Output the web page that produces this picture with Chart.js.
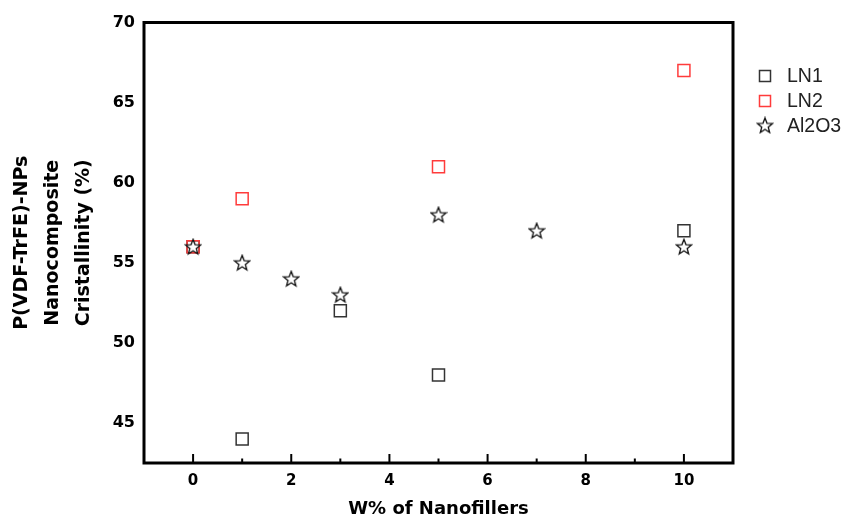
<!DOCTYPE html>
<html>
<head>
<meta charset="utf-8">
<script src="https://cdn.jsdelivr.net/npm/chart.js@4/dist/chart.umd.min.js"></script>
<style>
  html, body { margin: 0; padding: 0; background: #fff; }
  #chart { display: block; }
</style>
</head>
<body>
<canvas id="chart" width="843" height="516"></canvas>
<script>
// data
var ln1X = [0, 1, 3, 5, 10];
var ln1Y = [56, 44, 52, 48, 57];
var ln2X = [0, 1, 5, 10];
var ln2Y = [56, 59, 61, 67];
var alX = [0, 1, 2, 3, 5, 7, 10];
var alY = [56, 55, 54, 53, 58, 57, 56];
var seriesNames = ["LN1", "LN2", "Al2O3"];
var yTicks = [45, 50, 55, 60, 65, 70];
var xTickLabels = [0, 2, 4, 6, 8, 10];
var xMinorTicks = [1, 3, 5, 7, 9];

function pts(xs, ys) {
    return xs.map(function (x, i) { return {x: x, y: ys[i]}; });
}

// five-pointed outline star for the Al2O3 markers
function makeStar() {
    var c = document.createElement('canvas');
    c.width = 18; c.height = 18;
    var g = c.getContext('2d');
    g.beginPath();
    for (var i = 0; i < 10; i++) {
        var r = i % 2 === 0 ? 8 : 3.4;
        var a = -Math.PI / 2 + i * Math.PI / 5;
        var px = 9 + r * Math.cos(a), py = 9.6 + r * Math.sin(a);
        if (i === 0) g.moveTo(px, py); else g.lineTo(px, py);
    }
    g.closePath();
    g.fillStyle = '#fff';
    g.fill();
    g.lineWidth = 1.3;
    g.strokeStyle = '#111';
    g.stroke();
    return c;
}
var star = makeStar();

var frameAndTicks = {
    id: 'frameAndTicks',
    afterDraw: function (chart) {
        var ctx = chart.ctx, a = chart.chartArea, xs = chart.scales.x;
        ctx.save();
        ctx.strokeStyle = '#000';
        ctx.lineWidth = 2;
        xTickLabels.concat(xMinorTicks).forEach(function (v) {
            var px = xs.getPixelForValue(v);
            var len = xTickLabels.indexOf(v) >= 0 ? 9 : 4.5;
            ctx.beginPath();
            ctx.moveTo(px, a.bottom);
            ctx.lineTo(px, a.bottom - len);
            ctx.stroke();
        });
        ctx.lineWidth = 3;
        ctx.strokeRect(a.left, a.top, a.right - a.left, a.bottom - a.top);

        // legend
        var colors = ['#333', '#ff3b3b'];
        ctx.font = "19.5px 'Liberation Sans'";
        ctx.textBaseline = 'middle';
        ctx.textAlign = 'left';
        seriesNames.forEach(function (name, i) {
            var y = 76 + i * 25;
            if (i < 2) {
                ctx.lineWidth = 1.5;
                ctx.strokeStyle = colors[i];
                ctx.strokeRect(759.5, y - 5.5, 11, 11);
            } else {
                ctx.drawImage(star, 765 - 9, y - 9.6);
            }
            ctx.fillStyle = '#222';
            ctx.fillText(name, 787, y + 1);
        });
        ctx.restore();
    }
};

var ctx = document.getElementById('chart').getContext('2d');
var chart = new Chart(ctx, {
    type: 'scatter',
    data: {
        datasets: [{
            label: seriesNames[0],
            data: pts(ln1X, ln1Y),
            pointStyle: 'rect',
            pointRadius: 8.5,
            pointHoverRadius: 8.5,
            borderWidth: 1.5,
            borderColor: '#333',
            backgroundColor: 'rgba(0,0,0,0)',
            order: 3
        }, {
            label: seriesNames[1],
            data: pts(ln2X, ln2Y),
            pointStyle: 'rect',
            pointRadius: 8.5,
            pointHoverRadius: 8.5,
            borderWidth: 1.5,
            borderColor: '#ff3b3b',
            backgroundColor: 'rgba(0,0,0,0)',
            order: 2
        }, {
            label: seriesNames[2],
            data: pts(alX, alY),
            pointStyle: star,
            pointRadius: 8,
            order: 1
        }]
    },
    options: {
        responsive: false,
        devicePixelRatio: 1,
        animation: false,
        layout: {padding: {left: 0, top: 22.5, right: 110, bottom: 0}},
        plugins: {legend: {display: false}, tooltip: {enabled: false}},
        scales: {
            x: {
                type: 'linear',
                min: -1,
                max: 11,
                grid: {display: false, drawTicks: false},
                border: {display: false},
                afterBuildTicks: function (s) {
                    s.ticks = xTickLabels.map(function (v) { return {value: v}; });
                },
                afterFit: function (s) { s.height = 53; },
                ticks: {
                    autoSkip: false,
                    maxRotation: 0,
                    padding: 9,
                    color: '#000',
                    font: {family: "'DejaVu Sans'", weight: 'bold', size: 15}
                },
                title: {
                    display: true,
                    text: 'W% of Nanofillers',
                    color: '#000',
                    padding: {top: 0, bottom: 0},
                    font: {family: "'DejaVu Sans'", weight: 'bold', size: 18, lineHeight: 0.75}
                }
            },
            y: {
                min: 42.5,
                max: 70,
                grid: {display: false, drawTicks: false},
                border: {display: false},
                afterBuildTicks: function (s) {
                    s.ticks = yTicks.map(function (v) { return {value: v}; });
                },
                afterFit: function (s) { s.width = 144; },
                ticks: {
                    padding: 9,
                    color: '#000',
                    font: {family: "'DejaVu Sans'", weight: 'bold', size: 16}
                },
                title: {
                    display: true,
                    text: ['P(VDF-TrFE)-NPs', 'Nanocomposite', 'Cristallinity (%)'],
                    color: '#000',
                    padding: {top: 6.5, bottom: 0},
                    font: {family: "'DejaVu Sans'", weight: 'bold', size: 19, lineHeight: 1.63}
                }
            }
        }
    },
    plugins: [frameAndTicks]
});
</script>
</body>
</html>
